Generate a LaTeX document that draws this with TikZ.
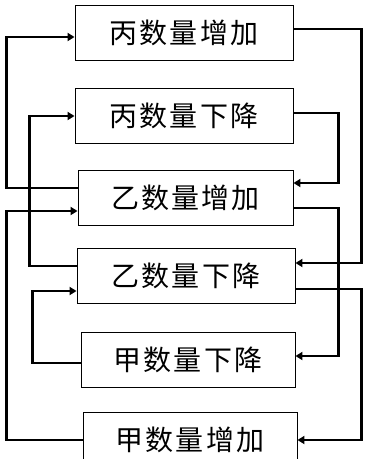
\documentclass[tikz,border=0pt]{standalone}
\usepackage{fontspec}
\newfontfamily\cjk[LetterSpace=8]{Noto Sans CJK SC}
\usepackage{tikz}
\usetikzlibrary{
  arrows.meta,
  positioning,
}

\begin{document}
\begin{tikzpicture}[
    x=1pt, y=-1pt,
    box/.style={draw, line width=0.9pt, minimum height=55pt, inner sep=0pt,
      font=\cjk\fontsize{28}{30}\selectfont},
    conn/.style={line width=2.6pt, -{Triangle[length=7pt,width=8pt]}},
  ]
  \useasboundingbox (0,0) rectangle (368,459);

  \foreach \n/\x/\y/\w/\t in {b1/184/33/218/丙数量增加, b2/184/116/218/丙数量下降,
      b3/185.5/198/215/乙数量增加, b4/186/276/218/乙数量下降,
      b5/188/360/214/甲数量下降, b6/190/440/214/甲数量增加}
    \node[box, minimum width=\w pt] (\n) at (\x,\y) {\t};

  % left side
  \draw[conn] ([yshift=10pt]b3.west) -- ++(-71,0) |- ([yshift=-4pt]b1.west);
  \draw[conn] ([yshift=10pt]b4.west) -- ++(-47,0) |- (b2.west);
  \draw[conn] (b6.west) -- ++(-76,0) |- ([yshift=-13pt]b3.west);
  \draw[conn] ([yshift=-3pt]b5.west) -- ++(-48,0) |- ([yshift=-15pt]b4.west);

  % right side
  \draw[conn] ([yshift=4pt]b1.east) -- ++(68,0) |- ([yshift=13pt]b4.east);
  \draw[conn] ([yshift=3pt]b2.east) -- ++(45,0) |- ([yshift=15pt]b3.east);
  \draw[conn] ([yshift=-10pt]b3.east) -- ++(45,0) |- ([yshift=4pt]b5.east);
  \draw[conn] ([yshift=-13pt]b4.east) -- ++(66,0) |- (b6.east);
\end{tikzpicture}
\end{document}
